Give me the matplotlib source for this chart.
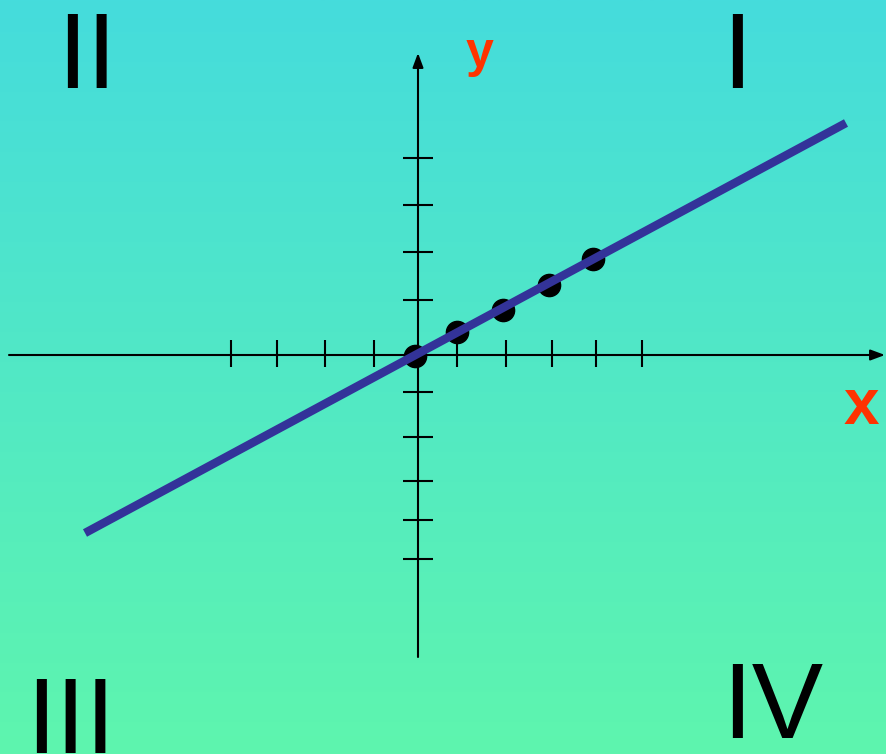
import numpy as np
import matplotlib
matplotlib.use('Agg')
import matplotlib.pyplot as plt
from matplotlib.colors import LinearSegmentedColormap

# coordinates: pixels measured from the axis crossing, y up
x_ticks = [-187, -141, -93, -44, 39, 88, 134, 178, 224]
y_ticks = [197, 150, 103, 55, -37, -82, -126, -165, -204]

# points on the line and the line ends
pts_x = [-3, 39, 85, 131, 175]
pts_y = [-1, 23, 45, 70, 96]
line_x = [-333, 428]
line_y = [-178, 232]

# quadrant labels
quad_names = ['II', 'I', 'III', 'IV']
quad_x = [-361, 304, -392, 304]
quad_y = [267, 267, -398, -383]

xmin, xmax = -418, 468
ymin, ymax = -399, 355

fig = plt.figure(figsize=(8.86, 7.54), dpi=100)
ax = fig.add_axes([0, 0, 1, 1])
ax.set_xlim(xmin, xmax)
ax.set_ylim(ymin, ymax)
ax.axis('off')

# background gradient
cmap = LinearSegmentedColormap.from_list('bg', ['#5ef5ae', '#45dcdc'])
grad = np.linspace(0, 1, 256).reshape(-1, 1)
ax.imshow(grad, extent=[xmin, xmax, ymin, ymax], origin='lower',
          aspect='auto', cmap=cmap, zorder=0)

# axes with arrows
arrow = dict(arrowstyle='-|>,head_length=0.86,head_width=0.32', lw=1.5,
             color='black', shrinkA=0, shrinkB=0)
ax.annotate('', xy=(467, 0), xytext=(-409, 0), arrowprops=arrow, zorder=2)
ax.annotate('', xy=(0, 302), xytext=(0, -302), arrowprops=arrow, zorder=2)

# tick marks
ax.vlines(x_ticks, -12, 15, color='black', lw=1.5, zorder=2)
ax.hlines(y_ticks, -15, 15, color='black', lw=1.5, zorder=2)

# points and line
ax.plot(pts_x, pts_y, 'o', color='black', markersize=16, zorder=3)
ax.plot(line_x, line_y, color='#333399', lw=6.1, solid_capstyle='butt', zorder=4)

# axis names
ax.text(48, 288, 'y', color='#ff3300', fontsize=36, fontweight='bold',
        family='Liberation Sans', ha='left', va='baseline')
ax.text(426, -69, 'x', color='#ff3300', fontsize=46, fontweight='bold',
        family='Liberation Sans', ha='left', va='baseline')

for name, qx, qy in zip(quad_names, quad_x, quad_y):
    ax.text(qx, qy, name, color='black', fontsize=77, family='Liberation Sans',
            ha='left', va='baseline')

fig.savefig('out.png', dpi=100)
